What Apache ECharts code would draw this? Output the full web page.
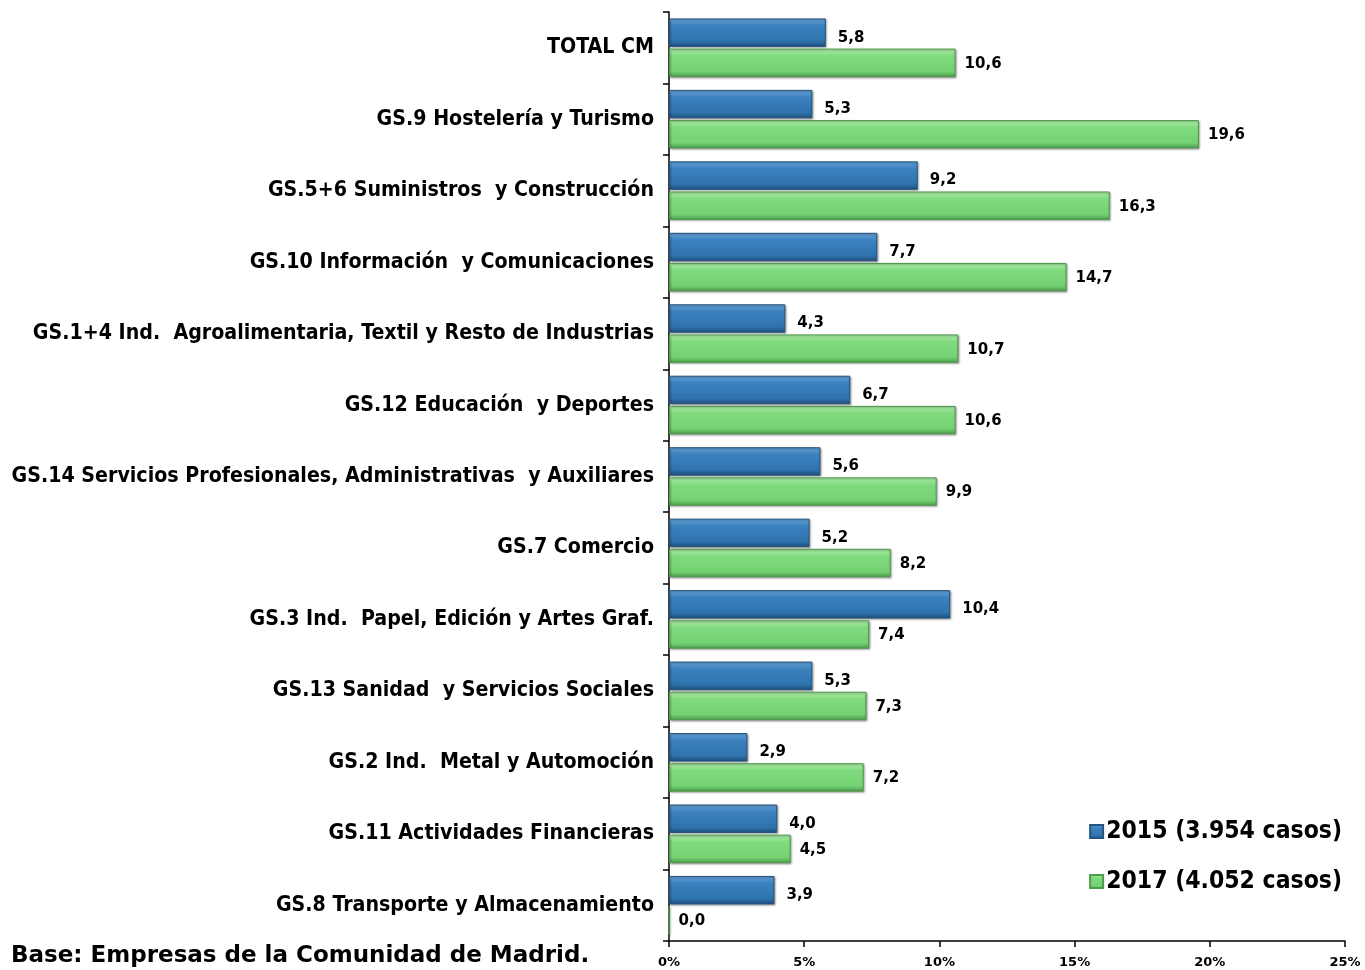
<!DOCTYPE html>
<html>
<head>
<meta charset="utf-8">
<script src="https://cdn.jsdelivr.net/npm/echarts@6/dist/echarts.min.js"></script>
<style>
  html, body { margin: 0; padding: 0; background: #fff; }
  #chart { width: 1365px; height: 970px; }
</style>
</head>
<body>
<div id="chart"></div>
<script>
// categories, top to bottom
const categories = [
  'TOTAL CM',
  'GS.9 Hostelería y Turismo',
  'GS.5+6 Suministros  y Construcción',
  'GS.10 Información  y Comunicaciones',
  'GS.1+4 Ind.  Agroalimentaria, Textil y Resto de Industrias',
  'GS.12 Educación  y Deportes',
  'GS.14 Servicios Profesionales, Administrativas  y Auxiliares',
  'GS.7 Comercio',
  'GS.3 Ind.  Papel, Edición y Artes Graf.',
  'GS.13 Sanidad  y Servicios Sociales',
  'GS.2 Ind.  Metal y Automoción',
  'GS.11 Actividades Financieras',
  'GS.8 Transporte y Almacenamiento'
]
const values2015 = [5.8, 5.3, 9.2, 7.7, 4.3, 6.7, 5.6, 5.2, 10.4, 5.3, 2.9, 4.0, 3.9]
const values2017 = [10.6, 19.6, 16.3, 14.7, 10.7, 10.6, 9.9, 8.2, 7.4, 7.3, 7.2, 4.5, 0.0]
const seriesNames = ['2015 (3.954 casos)', '2017 (4.052 casos)']
const xTicks = [0, 5, 10, 15, 20, 25]

const condensed = '"DejaVu Sans Condensed", "DejaVu Sans", sans-serif'
const plain = '"DejaVu Sans", Verdana, sans-serif'

const blueFill = new echarts.graphic.LinearGradient(0, 0, 0, 1, [
  { offset: 0, color: '#6aa6da' },
  { offset: 0.25, color: '#3c82bf' },
  { offset: 0.8, color: '#2e73ad' },
  { offset: 1, color: '#1d4d7a' }
])
const greenFill = new echarts.graphic.LinearGradient(0, 0, 0, 1, [
  { offset: 0, color: '#b4f0b0' },
  { offset: 0.25, color: '#80db7e' },
  { offset: 0.8, color: '#74d273' },
  { offset: 1, color: '#4c9a4b' }
])

const fmt = p => p.value.toFixed(1).replace('.', ',')

const chart = echarts.init(document.getElementById('chart'))
chart.setOption({
  animation: false,
  backgroundColor: '#fff',
  title: {
    text: 'Base: Empresas de la Comunidad de Madrid.',
    left: 6,
    top: 940,
    textStyle: { fontFamily: plain, fontSize: 23, fontWeight: 'bold', color: '#000' }
  },
  legend: {
    orient: 'vertical',
    right: 18,
    top: 814,
    itemWidth: 13,
    itemHeight: 13,
    itemGap: 25,
    icon: 'rect',
    data: seriesNames,
    textStyle: { fontFamily: condensed, fontSize: 24.5, fontWeight: 'bold', color: '#000', padding: [0, 0, 0, -2] }
  },
  grid: {
    left: 669,
    right: 20,
    top: 12,
    bottom: 29
  },
  xAxis: {
    type: 'value',
    min: xTicks[0],
    max: xTicks[xTicks.length - 1],
    interval: 5,
    splitLine: { show: false },
    axisLine: { show: true, lineStyle: { color: '#000', width: 1.5 } },
    axisTick: { show: true, length: 6, lineStyle: { color: '#000', width: 1.5 } },
    axisLabel: {
      formatter: '{value}%',
      margin: 15,
      fontFamily: plain,
      fontSize: 13,
      fontWeight: 'bold',
      color: '#000'
    }
  },
  yAxis: {
    type: 'category',
    inverse: true,
    data: categories,
    axisLine: { show: true, lineStyle: { color: '#000', width: 1.5 } },
    axisTick: { show: true, length: 6, lineStyle: { color: '#000', width: 1.5 } },
    axisLabel: {
      margin: 15,
      fontFamily: condensed,
      fontSize: 21.2,
      fontWeight: 'bold',
      color: '#000'
    }
  },
  series: [
    {
      name: seriesNames[0],
      type: 'bar',
      data: values2015,
      barGap: '6%',
      barCategoryGap: '18%',
      itemStyle: {
        color: blueFill,
        borderColor: '#24557f',
        borderWidth: 1,
        shadowColor: 'rgba(0,0,0,0.35)',
        shadowBlur: 2,
        shadowOffsetX: 1,
        shadowOffsetY: 1
      },
      label: {
        show: true,
        position: 'right',
        distance: 12,
        offset: [0, 5],
        formatter: fmt,
        fontFamily: plain,
        fontSize: 15,
        fontWeight: 'bold',
        color: '#000'
      }
    },
    {
      name: seriesNames[1],
      type: 'bar',
      data: values2017,
      itemStyle: {
        color: greenFill,
        borderColor: '#4d9a4c',
        borderWidth: 1,
        shadowColor: 'rgba(0,0,0,0.35)',
        shadowBlur: 2,
        shadowOffsetX: 1,
        shadowOffsetY: 1
      },
      label: {
        show: true,
        position: 'right',
        distance: 9,
        offset: [0, 1],
        formatter: fmt,
        fontFamily: plain,
        fontSize: 15,
        fontWeight: 'bold',
        color: '#000'
      }
    }
  ]
})
</script>
</body>
</html>
